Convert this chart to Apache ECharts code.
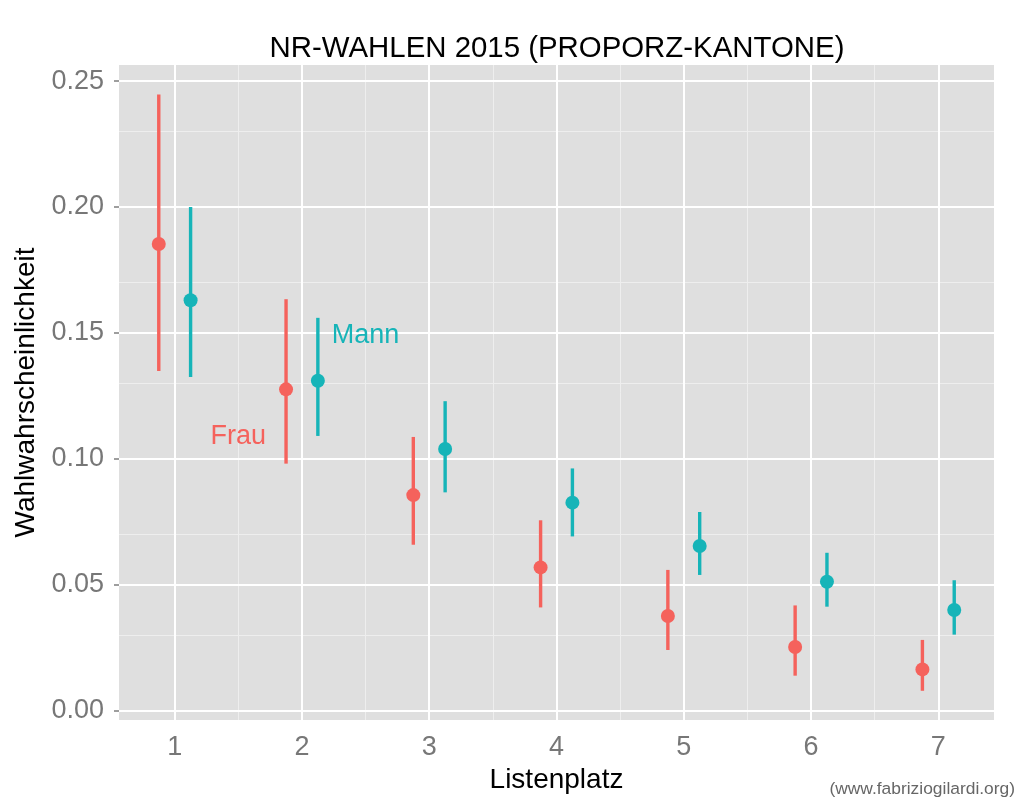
<!DOCTYPE html>
<html>
<head>
<meta charset="utf-8">
<title>NR-Wahlen 2015</title>
<script src="https://cdn.jsdelivr.net/npm/echarts@6/dist/echarts.min.js"></script>
<style>
  html, body { margin: 0; padding: 0; background: #fff; }
  #chart { width: 1024px; height: 805px; }
</style>
</head>
<body>
<div id="chart"></div>
<script>
// Listenplatz (x) und Wahlwahrscheinlichkeit mit Intervall
const listenplatz = [1, 2, 3, 4, 5, 6, 7];

const frauMean = [0.1853, 0.1276, 0.0856, 0.0569, 0.0376, 0.0253, 0.0164];
const frauLow  = [0.1349, 0.0981, 0.0659, 0.0410, 0.0241, 0.0139, 0.0079];
const frauHigh = [0.2447, 0.1634, 0.1087, 0.0756, 0.0559, 0.0418, 0.0281];

const mannMean = [0.1630, 0.1310, 0.1039, 0.0826, 0.0654, 0.0512, 0.0400];
const mannLow  = [0.1325, 0.1091, 0.0867, 0.0692, 0.0539, 0.0413, 0.0302];
const mannHigh = [0.2000, 0.1560, 0.1229, 0.0962, 0.0789, 0.0627, 0.0518];

// tick labels / grid
const xTicks = [1, 2, 3, 4, 5, 6, 7];
const xMinor = [1.5, 2.5, 3.5, 4.5, 5.5, 6.5];
const yTicks = [0, 0.05, 0.10, 0.15, 0.20, 0.25];
const yMinor = [0.025, 0.075, 0.125, 0.175, 0.225];

// direct labels
const labelNames = ['Frau', 'Mann'];
const labelPos = [[1.5, 0.11], [2.5, 0.15]];

const RED = '#F5625C';
const TEAL = '#16B4B8';
const DODGE = 0.125;
const FONT = '"Liberation Sans", Arial, Helvetica, sans-serif';

function pts(mean, off) {
    return listenplatz.map((x, i) => [x + off, mean[i]]);
}
function bars(low, high, off) {
    return listenplatz.map((x, i) => [x + off, low[i], high[i]]);
}

function errorBar(color) {
    return function (params, api) {
        const a = api.coord([api.value(0), api.value(1)]);
        const b = api.coord([api.value(0), api.value(2)]);
        return {
            type: 'line',
            shape: {x1: a[0], y1: a[1], x2: b[0], y2: b[1]},
            style: {stroke: color, lineWidth: 3.4}
        };
    };
}

const chart = echarts.init(document.getElementById('chart'), null, {renderer: 'canvas'});

const option = {
    animation: false,
    backgroundColor: '#fff',
    textStyle: {fontFamily: FONT},
    grid: {
        left: 119, right: 30, top: 65, bottom: 85,
        show: true, backgroundColor: '#DFDFDF', borderWidth: 0,
        outerBoundsMode: 'none'
    },
    xAxis: {
        type: 'value',
        min: 0.5625, max: 7.4375,
        name: 'Listenplatz',
        nameLocation: 'middle',
        nameGap: 35,
        nameTextStyle: {color: '#000', fontSize: 28, fontFamily: FONT},
        axisLine: {show: false},
        axisTick: {show: true, customValues: xTicks, length: 5, lineStyle: {color: '#7F7F7F', width: 1.5}},
        axisLabel: {customValues: xTicks, color: '#777', fontSize: 27, margin: 14, fontFamily: FONT},
        splitLine: {show: false}
    },
    yAxis: {
        type: 'value',
        min: -0.0037, max: 0.2564,
        name: 'Wahlwahrscheinlichkeit',
        nameLocation: 'middle',
        nameRotate: 90,
        nameGap: 65,
        nameTextStyle: {color: '#000', fontSize: 28, fontFamily: FONT},
        axisLine: {show: false},
        axisTick: {show: true, customValues: yTicks, length: 5, lineStyle: {color: '#7F7F7F', width: 1.5}},
        axisLabel: {
            customValues: yTicks, color: '#777', fontSize: 27, margin: 15, fontFamily: FONT,
            formatter: v => v.toFixed(2)
        },
        splitLine: {show: false}
    },
    graphic: [
        {
            type: 'text', x: 557, y: 49, z: 10,
            style: {
                text: 'NR-WAHLEN 2015 (PROPORZ-KANTONE)',
                font: '29.4px ' + FONT, fill: '#000',
                textAlign: 'center', textVerticalAlign: 'middle'
            }
        },
        {
            type: 'text', x: 1015, y: 789, z: 10,
            style: {
                text: '(www.fabriziogilardi.org)',
                font: '17.4px ' + FONT, fill: '#666',
                textAlign: 'right', textVerticalAlign: 'middle'
            }
        }
    ],
    series: [
        {
            // panel grid lines
            type: 'scatter',
            data: [],
            silent: true,
            markLine: {
                silent: true, symbol: 'none', z: 1,
                label: {show: false},
                emphasis: {disabled: true},
                data: [
                    ...yMinor.map(v => ({yAxis: v, lineStyle: {color: '#EEEEEE', width: 1, type: 'solid'}})),
                    ...xMinor.map(v => ({xAxis: v, lineStyle: {color: '#EEEEEE', width: 1, type: 'solid'}})),
                    ...yTicks.map(v => ({yAxis: v, lineStyle: {color: '#FFFFFF', width: 2, type: 'solid'}})),
                    ...xTicks.map(v => ({xAxis: v, lineStyle: {color: '#FFFFFF', width: 2, type: 'solid'}}))
                ]
            }
        },
        {
            name: 'Frau', type: 'custom', z: 3, silent: true,
            renderItem: errorBar(RED),
            encode: {x: 0, y: [1, 2]},
            data: bars(frauLow, frauHigh, -DODGE)
        },
        {
            name: 'Mann', type: 'custom', z: 3, silent: true,
            renderItem: errorBar(TEAL),
            encode: {x: 0, y: [1, 2]},
            data: bars(mannLow, mannHigh, DODGE)
        },
        {
            name: 'Frau', type: 'scatter', z: 4, silent: true,
            symbolSize: 14, itemStyle: {color: RED, opacity: 1},
            data: pts(frauMean, -DODGE)
        },
        {
            name: 'Mann', type: 'scatter', z: 4, silent: true,
            symbolSize: 14, itemStyle: {color: TEAL, opacity: 1},
            data: pts(mannMean, DODGE)
        },
        {
            type: 'scatter', z: 5, silent: true,
            symbolSize: 1,
            itemStyle: {color: 'rgba(0,0,0,0)'},
            label: {
                show: true, position: 'inside', offset: [0, 3],
                fontSize: 27, fontFamily: FONT,
                opacity: 1, textBorderWidth: 0, textShadowBlur: 0,
                formatter: '{b}'
            },
            data: labelNames.map((n, i) => ({
                name: n, value: labelPos[i],
                label: {color: i === 0 ? RED : TEAL}
            }))
        }
    ]
};

chart.setOption(option);
</script>
</body>
</html>
